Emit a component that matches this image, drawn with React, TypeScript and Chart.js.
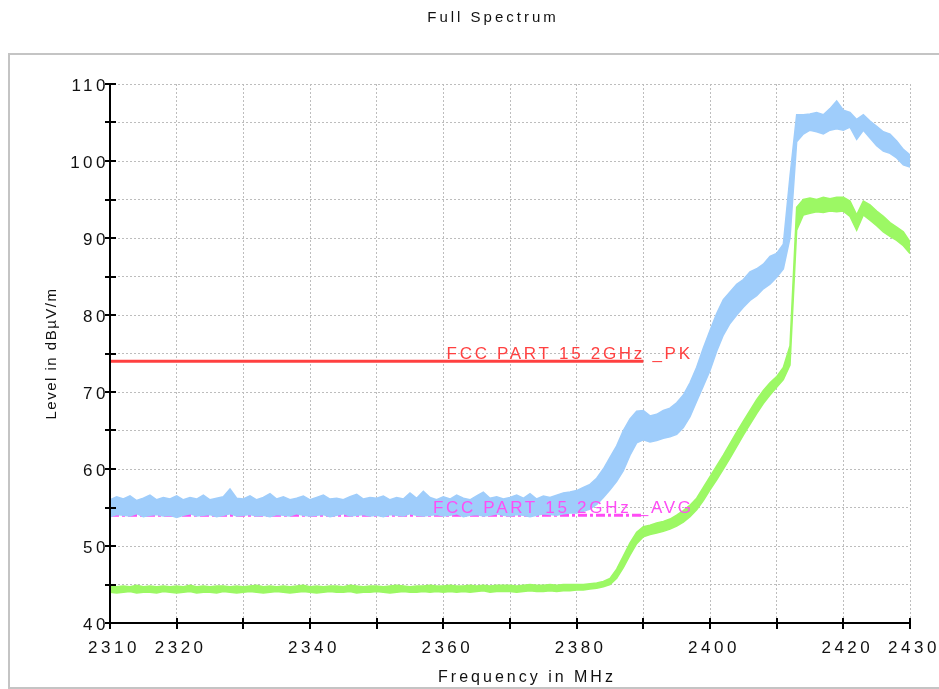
import { useEffect, useRef } from 'react';
import { Chart, registerables } from 'chart.js';

Chart.register(...registerables);

// Frequency grid in MHz (1 MHz steps, 2310..2430)
const freq: number[] = Array.from({ length: 121 }, (_, i) => 2310 + i);

// Peak trace (light blue) – lower and upper edge of the noise band, dBµV/m
const blueLow = [
  53.8, 54.1, 54.0, 53.9, 54.2, 53.8, 54.0, 54.1, 53.9, 54.0,
  53.7, 54.0, 54.2, 53.9, 54.0, 54.1, 53.8, 54.0, 54.2, 53.9,
  54.0, 54.1, 53.9, 54.0, 53.8, 54.1, 54.0, 53.9, 54.2, 54.0,
  53.9, 54.0, 54.1, 53.8, 54.0, 54.2, 53.9, 54.0, 54.1, 53.9,
  54.0, 53.8, 54.1, 54.0, 53.9, 54.2, 54.0, 53.9, 54.0, 54.1,
  53.9, 54.0, 54.2, 53.8, 54.0, 54.1, 53.9, 54.0, 54.2, 54.0,
  53.9, 54.1, 54.0, 53.8, 54.0, 54.2, 54.1, 54.0, 54.2, 54.3,
  54.3, 54.5, 54.8, 55.4, 56.3, 57.3, 58.4, 59.8, 61.8, 63.4,
  63.8, 63.5, 63.7, 64.0, 64.2, 64.5, 65.4, 66.8, 68.8, 70.8,
  72.8, 75.3, 77.4, 78.9, 80.0, 81.0, 81.9, 82.5, 83.4, 84.0,
  84.9, 86.0, 90.0, 102.5, 103.5, 104.0, 103.8, 103.5, 104.0, 104.2,
  104.0, 104.4, 102.8, 104.0, 103.0, 102.0, 101.3, 101.0, 100.4, 99.5,
  99.2,
];
const blueHigh = [
  56.0, 56.4, 56.1, 56.5, 55.9, 56.2, 56.6, 56.0, 56.3, 56.1,
  56.5, 56.0, 56.3, 56.1, 56.6, 56.0, 56.2, 56.4, 57.4, 56.2,
  56.1, 56.5, 56.0, 56.3, 56.8, 56.1, 56.4, 56.0, 56.2, 56.5,
  56.0, 56.3, 56.6, 56.1, 56.2, 56.0, 56.4, 56.7, 56.1, 56.3,
  56.2, 56.5, 56.0, 56.3, 56.1, 56.9, 56.2, 57.1, 56.3, 56.0,
  56.4, 56.1, 56.6, 56.2, 56.0, 56.5, 57.0, 56.2, 56.4, 56.1,
  56.3, 56.6, 56.2, 56.8, 56.1, 56.5, 56.3, 56.6, 56.9, 57.0,
  57.2, 57.6, 58.0, 58.8, 60.0, 61.5, 63.0, 65.0, 66.5, 67.5,
  67.6, 66.9, 67.1, 67.6, 67.9, 68.6, 69.6, 71.2, 73.2, 75.7,
  78.0, 80.2, 82.0, 83.0, 84.0, 84.6, 85.6, 86.0, 86.6, 87.6,
  88.0, 89.2, 98.0, 106.0, 106.0, 106.1, 106.3, 106.0, 106.8, 107.8,
  106.6, 106.3, 105.4, 106.0, 105.2, 104.5, 103.8, 103.5, 102.6, 101.5,
  100.8,
];

// Average trace (green) – lower and upper edge
const greenLow = [
  44.0, 43.9, 44.0, 44.1, 43.9, 44.0, 44.0, 43.9, 44.1, 44.0,
  43.9, 44.0, 44.1, 43.9, 44.0, 44.0, 43.9, 44.1, 44.0, 43.9,
  44.0, 44.1, 44.0, 43.9, 44.0, 44.1, 44.0, 43.9, 44.0, 44.1,
  44.0, 43.9, 44.0, 44.1, 44.0, 44.0, 44.1, 43.9, 44.0, 44.0,
  44.1, 44.0, 43.9, 44.0, 44.1, 44.0, 44.0, 44.1, 44.0, 44.1,
  44.0, 44.1, 44.0, 44.1, 44.0, 44.1, 44.2, 44.0, 44.1, 44.1,
  44.1, 44.0, 44.1, 44.2, 44.1, 44.1, 44.2, 44.1, 44.2, 44.2,
  44.3, 44.3, 44.4, 44.5, 44.7, 45.0, 45.8, 47.2, 48.8, 50.3,
  51.2, 51.5, 51.7, 51.9, 52.2, 52.6, 53.1, 53.8, 54.7, 55.9,
  57.3, 58.6, 60.0, 61.4, 62.9, 64.4, 65.8, 67.2, 68.5, 69.6,
  70.6, 71.6, 73.5, 91.0, 93.0, 93.2, 93.4, 93.3, 93.5, 93.4,
  93.5, 92.8, 91.0, 93.0, 92.3, 91.6, 90.8, 90.2, 89.7, 89.0,
  88.0,
];
const greenHigh = [
  44.8, 44.7, 44.8, 44.7, 44.9, 44.7, 44.8, 44.7, 44.8, 44.7,
  44.8, 44.7, 44.9, 44.7, 44.8, 44.7, 44.8, 44.8, 44.7, 44.8,
  44.7, 44.8, 44.9, 44.7, 44.8, 44.7, 44.8, 44.7, 44.8, 44.9,
  44.7, 44.8, 44.7, 44.8, 44.8, 44.7, 44.9, 44.8, 44.7, 44.8,
  44.8, 44.7, 44.8, 44.9, 44.8, 44.7, 44.8, 44.8, 44.9, 44.8,
  44.8, 44.9, 44.8, 44.8, 44.9, 44.8, 44.9, 44.8, 44.9, 44.9,
  44.9, 44.8, 44.9, 45.0, 44.9, 44.9, 45.0, 44.9, 45.0, 45.0,
  45.0, 45.0, 45.1, 45.2, 45.4, 45.8, 47.0, 48.7, 50.4, 51.8,
  52.5, 52.7, 53.0, 53.2, 53.5, 54.0, 54.6, 55.3, 56.2, 57.6,
  59.0, 60.4, 61.8, 63.3, 64.8, 66.2, 67.6, 69.0, 70.2, 71.2,
  72.0, 73.2, 76.0, 94.0, 95.0, 95.2, 95.0, 95.3, 95.1, 95.3,
  95.3, 94.8, 93.0, 94.8, 94.3, 93.5, 92.8, 92.0, 91.4, 90.8,
  89.5,
];

// Limit lines
const limitFreq = [2310, 2390];
const pkLimit = [74, 74];
const avgLimit = [54, 54];
const pkLabel = 'FCC PART 15 2GHz _PK';
const avgLabel = 'FCC PART 15 2GHz _AVG';
const labelAnchorFreq = 2397.4;

// Axis ticks
const xMin = 2310;
const xMax = 2430;
const yMin = 40;
const yMax = 110;
const xTickLabels = [2310, 2320, 2340, 2360, 2380, 2400, 2420, 2430];
const xTickMarks = [2310, 2320, 2330, 2340, 2350, 2360, 2370, 2380, 2390, 2400, 2410, 2420, 2430];
const yTickLabels = [40, 50, 60, 70, 80, 90, 100, 110];
const yTickMarks = [40, 45, 50, 55, 60, 65, 70, 75, 80, 85, 90, 95, 100, 105, 110];

const chartTitle = 'Full Spectrum';
const xTitle = 'Frequency in MHz';
const yTitle = 'Level in dBµV/m';

const FONT = '"Liberation Sans", Arial, Helvetica, sans-serif';
const BLUE = '#9fcdfb';
const GREEN = '#9cf864';
const RED = '#ff4040';
const MAGENTA = '#ff4cf5';

const pts = (xs: number[], ys: number[]) => xs.map((x, i) => ({ x, y: ys[i] }));

const decor = {
  id: 'decor',
  beforeDraw(chart: any) {
    const ctx = chart.ctx;
    ctx.save();
    ctx.fillStyle = '#ffffff';
    ctx.fillRect(0, 0, chart.width, chart.height);
    ctx.strokeStyle = '#c4c4c4';
    ctx.lineWidth = 2;
    ctx.strokeRect(9, 54, chart.width + 20, 634);
    ctx.restore();
  },
  afterDraw(chart: any) {
    const ctx = chart.ctx;
    const xs = chart.scales.x;
    const ys = chart.scales.y;
    const { left, right, top, bottom } = chart.chartArea;
    ctx.save();
    ctx.setLineDash([]);

    // limit labels
    ctx.font = `17px ${FONT}`;
    (ctx as any).letterSpacing = '2.7px';
    ctx.textAlign = 'right';
    ctx.textBaseline = 'alphabetic';
    ctx.fillStyle = RED;
    ctx.fillText(pkLabel, xs.getPixelForValue(labelAnchorFreq), ys.getPixelForValue(pkLimit[0]) - 2);
    ctx.fillStyle = MAGENTA;
    ctx.fillText(avgLabel, xs.getPixelForValue(labelAnchorFreq) + 1, ys.getPixelForValue(avgLimit[0]) - 2);

    // axis lines
    ctx.strokeStyle = '#000';
    ctx.lineWidth = 2;
    ctx.beginPath();
    ctx.moveTo(left, top);
    ctx.lineTo(left, bottom);
    ctx.lineTo(right + 1, bottom);
    ctx.stroke();

    // tick marks (crossing the axis)
    ctx.beginPath();
    for (const v of yTickMarks) {
      const y = Math.round(ys.getPixelForValue(v));
      ctx.moveTo(left - 5, y);
      ctx.lineTo(left + 6, y);
    }
    for (const v of xTickMarks) {
      const x = Math.round(xs.getPixelForValue(v));
      ctx.moveTo(x, bottom - 5);
      ctx.lineTo(x, bottom + 6);
    }
    ctx.stroke();

    // tick labels
    ctx.fillStyle = '#111';
    ctx.font = `17px ${FONT}`;
    (ctx as any).letterSpacing = '3.5px';
    ctx.textBaseline = 'middle';
    ctx.textAlign = 'right';
    for (const v of yTickLabels) {
      ctx.fillText(String(v), left - 1, ys.getPixelForValue(v) + 2);
    }
    ctx.textAlign = 'center';
    for (const v of xTickLabels) {
      ctx.fillText(String(v), xs.getPixelForValue(v) + 4, bottom + 25);
    }

    // titles
    ctx.font = `15px ${FONT}`;
    (ctx as any).letterSpacing = '3px';
    ctx.fillText(chartTitle, 493, 18);

    ctx.font = `16px ${FONT}`;
    (ctx as any).letterSpacing = '3px';
    ctx.fillText(xTitle, 527, 678);

    ctx.save();
    ctx.translate(52, (top + bottom) / 2);
    ctx.rotate(-Math.PI / 2);
    ctx.font = `15px ${FONT}`;
    (ctx as any).letterSpacing = '1.5px';
    ctx.fillText(yTitle, 0, 0);
    ctx.restore();

    ctx.restore();
  },
};

export default function App() {
  const ref = useRef<HTMLCanvasElement | null>(null);

  useEffect(() => {
    if (!ref.current) return;
    const band = (data: number[], color: string, fill: any) => ({
      data: pts(freq, data),
      borderColor: color,
      backgroundColor: color,
      borderWidth: 1.5,
      pointRadius: 0,
      fill,
      tension: 0,
    });
    const chart = new Chart(ref.current, {
      type: 'line',
      data: {
        datasets: [
          band(blueHigh, BLUE, false),
          band(blueLow, BLUE, '-1'),
          band(greenHigh, GREEN, false),
          band(greenLow, GREEN, '-1'),
          {
            data: pts(limitFreq, pkLimit),
            borderColor: RED,
            borderWidth: 3,
            pointRadius: 0,
            fill: false,
          },
          {
            data: pts(limitFreq, avgLimit),
            borderColor: MAGENTA,
            borderWidth: 3,
            borderDash: [9, 3, 3, 3],
            pointRadius: 0,
            fill: false,
          },
        ],
      },
      options: {
        responsive: false,
        animation: false,
        parsing: true,
        layout: { padding: { left: 110, right: 29, top: 84, bottom: 66 } },
        plugins: {
          legend: { display: false },
          title: { display: false },
          tooltip: { enabled: false },
        },
        scales: {
          x: {
            type: 'linear',
            min: xMin,
            max: xMax,
            afterFit: (s: any) => { s.height = 0; },
            ticks: { display: false, stepSize: 10 },
            grid: { color: '#bdbdbd', lineWidth: 1, drawTicks: false },
            border: { display: false, dash: [2, 2] },
          },
          y: {
            type: 'linear',
            min: yMin,
            max: yMax,
            afterFit: (s: any) => { s.width = 0; },
            ticks: { display: false, stepSize: 5 },
            grid: { color: '#bdbdbd', lineWidth: 1, drawTicks: false },
            border: { display: false, dash: [2, 2] },
          },
        },
      } as any,
      plugins: [decor],
    });
    return () => chart.destroy();
  }, []);

  return (
    <div style={{ position: 'absolute', left: 0, top: 0, width: 939, height: 689 }}>
      <canvas ref={ref} width={939} height={689} />
    </div>
  );
}
